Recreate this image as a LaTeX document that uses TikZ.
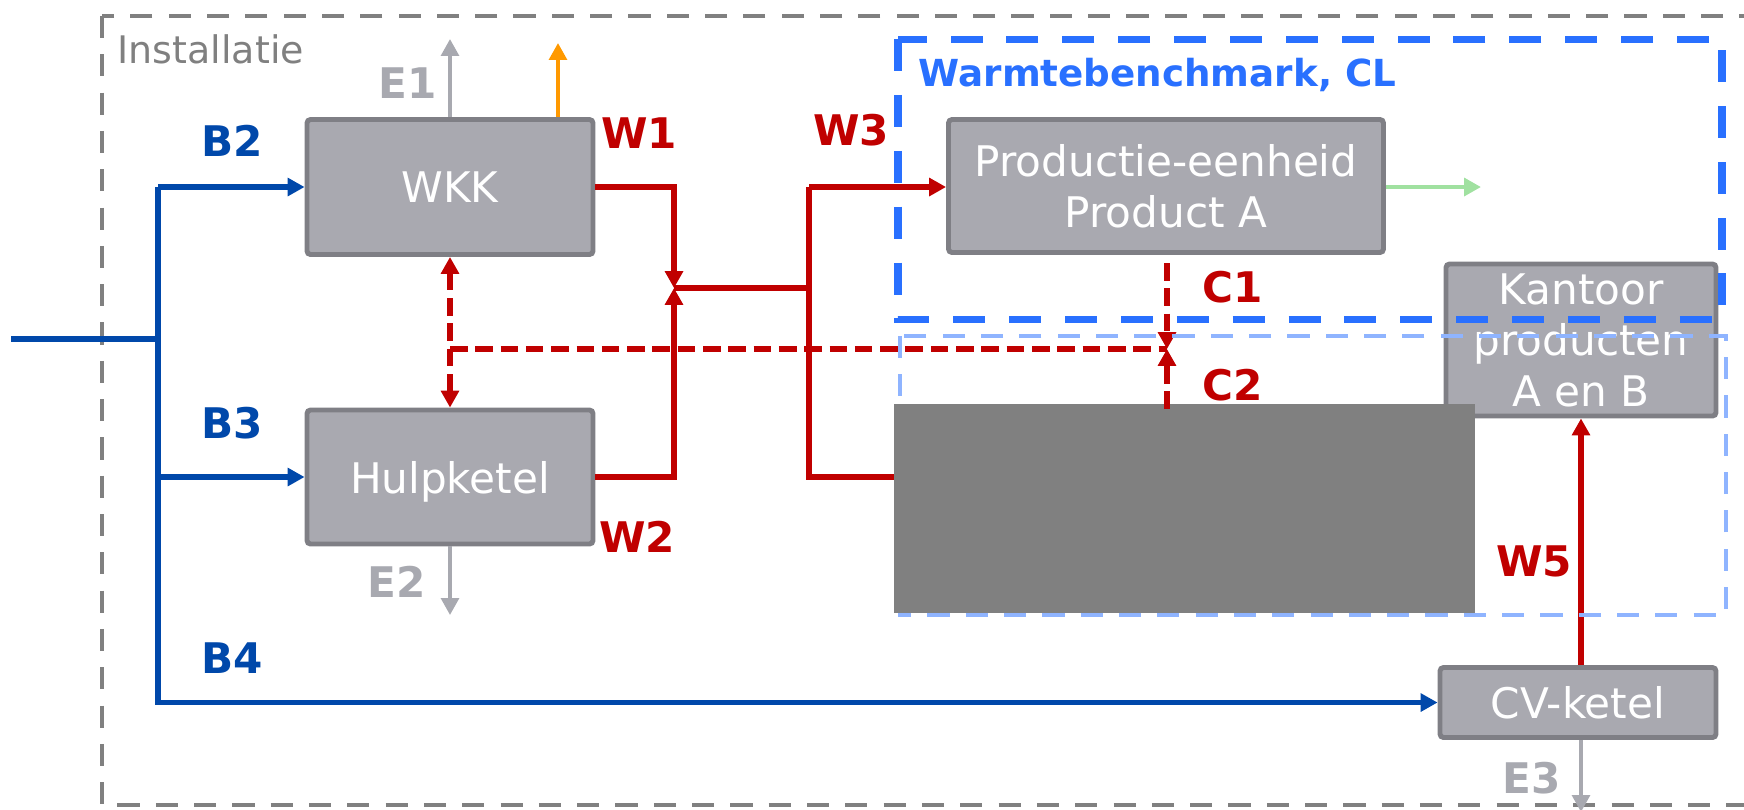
\documentclass[tikz,border=0pt]{standalone}
\usepackage{fontspec}
\setmainfont{DejaVu Sans}
\usetikzlibrary{arrows.meta}
\definecolor{boxfill}{RGB}{169,169,176}
\definecolor{boxline}{RGB}{127,127,133}
\definecolor{flowblue}{RGB}{0,72,170}
\definecolor{flowred}{RGB}{192,0,0}
\definecolor{elight}{RGB}{168,169,176}
\definecolor{benchblue}{RGB}{41,112,255}
\definecolor{lightblue}{RGB}{143,180,255}
\definecolor{outergray}{RGB}{128,128,128}
\definecolor{orangeflow}{RGB}{255,153,0}
\definecolor{greenflow}{RGB}{160,225,160}
\definecolor{maskgray}{RGB}{128,128,128}
\tikzset{
  box/.style={draw=boxline, fill=boxfill, line width=1.4pt, rounded corners=1pt,
    text=white, font=\fontsize{12}{14.5}\selectfont, align=center, inner sep=0pt},
  lbl/.style={font=\fontsize{12}{14}\selectfont\bfseries, inner sep=0pt},
  tip/.style={-{Triangle[length=4.8pt,width=5pt]}},
  bflow/.style={draw=flowblue, line width=1.5pt},
  rflow/.style={draw=flowred, line width=1.5pt},
  rdash/.style={draw=flowred, line width=1.7pt, dash pattern=on 5pt off 2.2pt},
  eflow/.style={draw=elight, line width=1.1pt},
}
\begin{document}
\begin{tikzpicture}[x=0.1mm,y=-0.1mm]
\useasboundingbox (0,0) rectangle (1744,809);
\clip (0,0) rectangle (1744,809);
% outer installation boundary
\draw[outergray, line width=1.4pt, dash pattern=on 6.3pt off 4.6pt] (102,16) rectangle (1790,805);
\node[anchor=base west, inner sep=0pt, text=outergray, font=\fontsize{10.8}{13}\selectfont] (inst) at (117,63) {Installatie};

% boxes
\node[box, minimum width=28.6mm, minimum height=13.5mm] (wkk) at (450,187) {WKK};
\node[box, minimum width=28.6mm, minimum height=13.4mm, text depth=0pt] (hulp) at (450,477) {Hulpketel};
\node[box, minimum width=43.5mm, minimum height=13.3mm] (prod) at (1166,186) {Productie-eenheid\\Product A};
\node[box, minimum width=27mm, minimum height=15.2mm] (kant) at (1581,340) {Kantoor\\producten\\A en B};
\node[box, minimum width=27.6mm, minimum height=7mm] (cv) at (1578,702.5) {CV-ketel};

% fuel (blue) lines
\coordinate (in) at (11,339);
\coordinate (tin) at (158,339);
\coordinate (tb2) at (158,187);
\coordinate (tb3) at (158,477);
\draw[bflow] (in) -- (tin);
\draw[bflow, tip] (tb2) -- (wkk.west);
\draw[bflow, tip] (tb3) -- (hulp.west);
\draw[bflow, tip] (tb2) |- (cv.west);

% heat (red) lines
\coordinate (ja) at (674,288);
\coordinate (jb) at (809,288);
\coordinate (w3s) at (809,187);
\coordinate (w4e) at (894,477);
\draw[rflow, tip] (wkk.east) -| (ja);
\draw[rflow, tip] (hulp.east) -| (ja);
\draw[rflow] (ja) -- (jb);
\draw[rflow, tip] (w3s) -- (w3s -| prod.west);
\draw[rflow] (w3s) |- (w4e);
\draw[rflow, tip] (cv.north -| kant.south) -- (kant.south);

% control (dashed red) lines
\coordinate (dh) at (450,349);
\coordinate (cj) at (1167,349);
\coordinate (c1s) at (1167,263);
\coordinate (c2s) at (1167,409);
\draw[rdash, {Triangle[length=4.8pt,width=5pt]}-{Triangle[length=4.8pt,width=5pt]}] (wkk.south) -- (hulp.north);
\draw[rdash] (dh) -- (cj);
\draw[rdash, tip] (c1s) -- (cj);

% other outputs
\coordinate (e1) at (450,39);
\coordinate (o1) at (558,43);
\coordinate (g1) at (1481,187);
\coordinate (e2) at (450,615);
\coordinate (e3) at (1581,812);
\draw[eflow, tip] (wkk.north) -- (e1);
\draw[draw=orangeflow, line width=1.1pt, tip] (o1 |- wkk.north) -- (o1);
\draw[draw=greenflow, line width=1.2pt, tip] (g1 -| prod.east) -- (g1);
\draw[eflow, tip] (hulp.south) -- (e2);
\draw[eflow, tip] (cv.south -| e3) -- (e3);

% benchmark boundaries
\draw[benchblue, line width=2pt, dash pattern=on 9.1pt off 6.8pt] (898,39) rectangle (1722,319);
\draw[lightblue, line width=1.4pt, dash pattern=on 6.3pt off 4.6pt] (900,336) rectangle (1726,615);
\node[anchor=base west, inner sep=0pt, text=benchblue, font=\fontsize{10.6}{13}\selectfont\bfseries] (bench) at (918,86) {Warmtebenchmark, CL};

% masked area
\fill[maskgray] (894,404) rectangle (1475,613);
\draw[rdash, tip] (c2s) -- (cj);

% labels
\node[lbl, text=elight] (le1) at (408,83) {E1};
\node[lbl, text=flowblue] (lb2) at (232,141) {B2};
\node[lbl, text=flowred] (lw1) at (639,133) {W1};
\node[lbl, text=flowred] (lw3) at (851,130) {W3};
\node[lbl, text=flowred] (lc1) at (1233,287) {C1};
\node[lbl, text=flowred] (lc2) at (1233,385) {C2};
\node[lbl, text=flowblue] (lb3) at (232,423) {B3};
\node[lbl, text=flowred] (lw2) at (637,537) {W2};
\node[lbl, text=elight] (le2) at (397,582) {E2};
\node[lbl, text=flowblue] (lb4) at (232,658) {B4};
\node[lbl, text=flowred] (lw5) at (1534,561) {W5};
\node[lbl, text=elight] (le3) at (1532,778) {E3};
\end{tikzpicture}
\end{document}
